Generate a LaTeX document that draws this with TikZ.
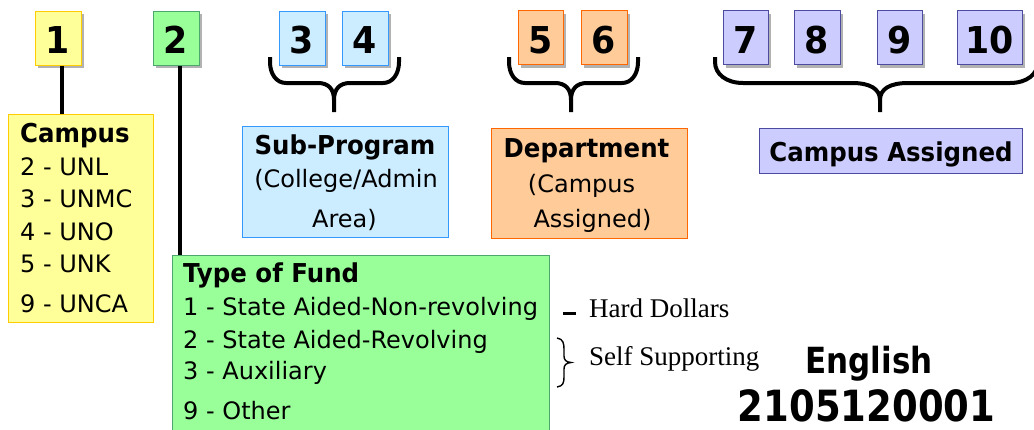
\documentclass[tikz,border=0pt]{standalone}
\usepackage{fontspec}
\setmainfont{DejaVu Sans}
\newfontfamily\headfont{DejaVu Sans}[FakeStretch=0.94]
\newfontfamily\bigfont{DejaVu Sans}[FakeStretch=0.86]
\newfontfamily\serfont{Liberation Serif}
\usetikzlibrary{shadows}

\definecolor{yfill}{HTML}{FFFF99}\definecolor{ydraw}{HTML}{FFCC00}
\definecolor{gfill}{HTML}{99FF99}\definecolor{gdraw}{HTML}{4DA66B}
\definecolor{bfill}{HTML}{CCECFF}\definecolor{bdraw}{HTML}{3399FF}
\definecolor{ofill}{HTML}{FFCC99}\definecolor{odraw}{HTML}{FF6600}
\definecolor{pfill}{HTML}{CCCCFF}\definecolor{pdraw}{HTML}{4B4BA0}

% curly brace under a group of digit boxes: left x, right x, middle x, corner radius
\newcommand\groupbrace[4]{%
  \draw[bracestroke] (#1,57) -- (#1,62) .. controls (#1,74) and (#1+#4*0.4,83) .. (#1+#4,83)
     -- (#3-#4,83) .. controls (#3-#4*0.35,83) and (#3,89) .. (#3,100) -- (#3,112);
  \draw[bracestroke] (#2,57) -- (#2,62) .. controls (#2,74) and (#2-#4*0.4,83) .. (#2-#4,83)
     -- (#3+#4,83) .. controls (#3+#4*0.35,83) and (#3,89) .. (#3,100);
}

\begin{document}
\begin{tikzpicture}[x=1pt,y=-1pt,
  numbox/.style={draw, line width=1pt, minimum width=46pt, minimum height=54pt, inner sep=0pt,
    drop shadow={shadow xshift=3pt, shadow yshift=-3pt, fill=black!30, opacity=1}},
  digit/.style={anchor=base, font=\headfont\bfseries\fontsize{37}{37}\selectfont, inner sep=0pt},
  infobox/.style={draw, line width=1pt, inner sep=0pt},
  head/.style={font=\headfont\bfseries\fontsize{26}{26}\selectfont, inner sep=0pt},
  body/.style={font=\fontsize{24}{24}\selectfont, inner sep=0pt},
  conn/.style={line width=4.5pt},
  bracestroke/.style={line width=4pt},
  note/.style={font=\serfont\fontsize{27}{27}\selectfont, inner sep=0pt, anchor=base west}]

\useasboundingbox (0,0) rectangle (1034,429);

% digit boxes
\node[numbox, fill=yfill, draw=ydraw] (n1) at (58,38) {};
\node[numbox, fill=gfill, draw=gdraw] (n2) at (176,38) {};
\node[numbox, fill=bfill, draw=bdraw] (n3) at (302,38) {};
\node[numbox, fill=bfill, draw=bdraw] (n4) at (365,38) {};
\node[numbox, fill=ofill, draw=odraw, minimum width=45pt] (n5) at (540.5,37.5) {};
\node[numbox, fill=ofill, draw=odraw] (n6) at (604,37.5) {};
\node[numbox, fill=pfill, draw=pdraw, minimum width=45pt] (n7) at (745.5,37.5) {};
\node[numbox, fill=pfill, draw=pdraw] (n8) at (817,37.5) {};
\node[numbox, fill=pfill, draw=pdraw, minimum width=45pt] (n9) at (899.5,37.5) {};
\node[numbox, fill=pfill, draw=pdraw, minimum width=65pt] (n10) at (989.5,37.5) {};

\node[digit] (d1) at (58,53) {1};
\node[digit] (d2) at (176,53) {2};
\node[digit] (d3) at (302,53) {3};
\node[digit] (d4) at (365,53) {4};
\node[digit] (d5) at (540.5,53) {5};
\node[digit] (d6) at (604,53) {6};
\node[digit] (d7) at (745.5,53) {7};
\node[digit] (d8) at (817,53) {8};
\node[digit] (d9) at (899.5,53) {9};
\node[digit] (d10) at (989.5,53) {10};

% description boxes
\node[infobox, fill=yfill, draw=ydraw, minimum width=145pt, minimum height=208pt] (campus) at (80.5,218) {};
\node[infobox, fill=bfill, draw=bdraw, minimum width=206pt, minimum height=111pt] (subprog) at (345,181.5) {};
\node[infobox, fill=ofill, draw=odraw, minimum width=196pt, minimum height=110pt] (dept) at (589,183) {};
\node[infobox, fill=pfill, draw=pdraw, minimum width=263pt, minimum height=45pt] (assigned) at (890.5,150.5) {};
\node[infobox, fill=gfill, draw=gdraw, minimum width=377pt, minimum height=190pt] (fund) at (360.5,350) {};

% connectors
\draw[conn] ([xshift=4pt]n1.south) -- ([xshift=4pt]n1.south |- campus.north);
\draw[conn] ([xshift=4pt]n2.south) -- ([xshift=4pt]n2.south |- fund.north);

% braces
\groupbrace{270}{399}{334}{16}
\groupbrace{509}{638}{571}{16}
\begin{scope}
  \clip (0,0) rectangle (1034,429);
  \groupbrace{715}{1038}{880}{28}
\end{scope}

% campus text
\node[head, anchor=base west] (campusT) at (20,142) {Campus};
\node[body, anchor=base west] (c2) at (20,175) {2 - UNL};
\node[body, anchor=base west] (c3) at (20,207) {3 - UNMC};
\node[body, anchor=base west] (c4) at (20,240) {4 - UNO};
\node[body, anchor=base west] (c5) at (20,272) {5 - UNK};
\node[body, anchor=base west] (c9) at (20,312) {9 - UNCA};

% sub-program text
\node[head, anchor=base] (subT) at (345,154) {Sub-Program};
\node[body, anchor=base] (sub1) at (346,187) {(College/Admin};
\node[body, anchor=base] (sub2) at (344.5,227) {Area)};

% department text
\node[head, anchor=base] (deptT) at (586.5,157) {Department};
\node[body, anchor=base] (dept1) at (581.5,192) {(Campus};
\node[body, anchor=base] (dept2) at (592.5,227) {Assigned)};

% campus assigned text
\node[head, anchor=base] (assignT) at (891,161) {Campus Assigned};

% type of fund text
\node[head, anchor=base west] (fundT) at (183,282) {Type of Fund};
\node[body, anchor=base west] (f1) at (183,315) {1 - State Aided-Non-revolving};
\node[body, anchor=base west] (f2) at (183,348) {2 - State Aided-Revolving};
\node[body, anchor=base west] (f3) at (183,379) {3 - Auxiliary};
\node[body, anchor=base west] (f9) at (183,419) {9 - Other};

% side notes
\draw[line width=3pt] (563,313) -- (576,313);
\node[note] (hard) at (589,317) {Hard Dollars};
\draw[line width=1.4pt] (557,338) .. controls (563,339) and (564,343) .. (564,349)
  -- (564,356) .. controls (564,360) and (566,362) .. (571,362.5)
  .. controls (566,363) and (564,365) .. (564,369)
  -- (564,377) .. controls (564,383) and (563,386) .. (557,387);
\node[note] (self) at (589,365) {Self Supporting};

% example
\node[font=\bigfont\bfseries\fontsize{36}{36}\selectfont, inner sep=0pt, anchor=base] (eng) at (869,373) {English};
\node[font=\bigfont\bfseries\fontsize{43}{43}\selectfont, inner sep=0pt, anchor=base] (code) at (866.5,421) {2105120001};
\end{tikzpicture}
\end{document}
